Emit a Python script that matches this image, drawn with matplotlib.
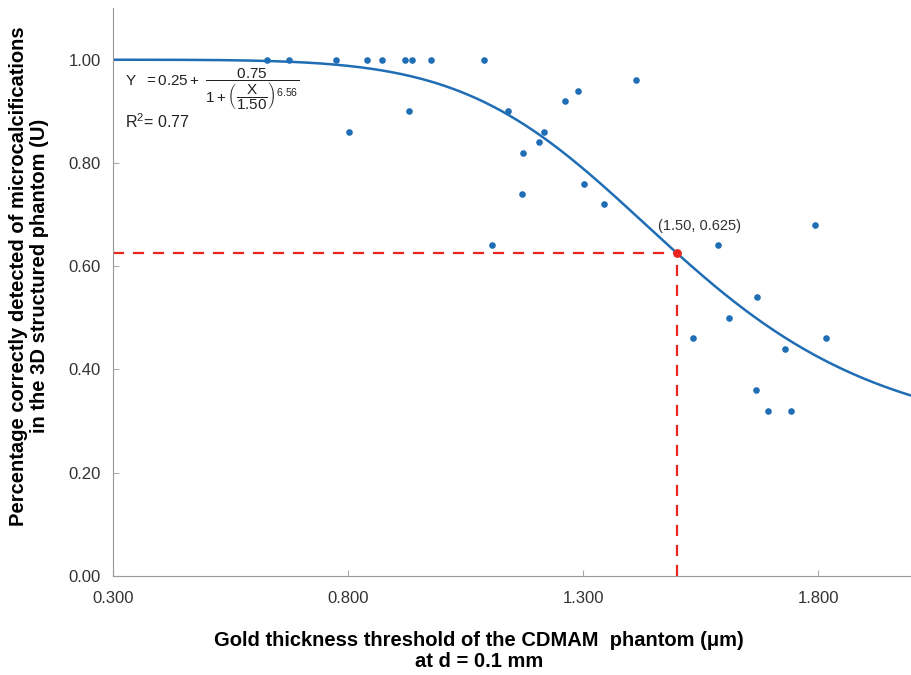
import numpy as np
import matplotlib.pyplot as plt

plt.rcParams['font.family'] = ['Liberation Sans', 'DejaVu Sans']
plt.rcParams['mathtext.fontset'] = 'custom'
plt.rcParams['mathtext.rm'] = 'Liberation Sans'
plt.rcParams['mathtext.it'] = 'Liberation Sans'

# observed points (gold thickness threshold, fraction detected)
thickness = [0.627, 0.675, 0.774, 0.840, 0.872, 0.921, 0.935, 0.977, 1.089,
             0.930, 0.801, 1.141, 1.216, 1.207, 1.173, 1.170, 1.107,
             1.413, 1.290, 1.262, 1.301, 1.345,
             1.794, 1.587, 1.671, 1.611, 1.535, 1.817, 1.730, 1.669, 1.693, 1.742]
detected = [1.00, 1.00, 1.00, 1.00, 1.00, 1.00, 1.00, 1.00, 1.00,
            0.90, 0.86, 0.90, 0.86, 0.84, 0.82, 0.74, 0.64,
            0.96, 0.94, 0.92, 0.76, 0.72,
            0.68, 0.64, 0.54, 0.50, 0.46, 0.46, 0.44, 0.36, 0.32, 0.32]

# fitted logistic model
a_min, a_range, x50, slope = 0.25, 0.75, 1.50, 6.56
ref_x, ref_y = 1.50, 0.625

blue = '#1f6db5'
red = '#e8261f'

fig = plt.figure(figsize=(9.12, 6.75), dpi=100)
ax = fig.add_axes([0.124, 0.147, 0.876, 0.841])

xs = np.linspace(0.3, 2.0, 400)
ys = a_min + a_range / (1 + (xs / x50) ** slope)
ax.plot(xs, ys, color=blue, lw=1.8, zorder=2)
ax.scatter(thickness, detected, s=14, color=blue, zorder=3)

ax.plot([0.3, ref_x], [ref_y, ref_y], color=red, lw=1.6, ls=(0, (5, 4)), zorder=1)
ax.plot([ref_x, ref_x], [0, ref_y], color=red, lw=1.6, ls=(0, (5, 4)), zorder=1)
ax.scatter([ref_x], [ref_y], s=28, color=red, zorder=4)
ax.text(ref_x - 0.04, ref_y + 0.045, '(1.50, 0.625)', fontsize=10.5, color='#333333')

ax.text(0.325, 0.943,
        r'$\mathrm{Y\ \ = 0.25 +}\ \dfrac{0.75}{1+\left(\dfrac{X}{1.50}\right)^{6.56}}$',
        fontsize=11, color='#222222', va='center')
ax.text(0.325, 0.88, r'R$^2$= 0.77', fontsize=11.5, color='#222222', va='center')

ax.set_xlim(0.3, 2.0)
ax.set_ylim(0, 1.1)
ax.set_xticks([0.3, 0.8, 1.3, 1.8])
ax.set_xticklabels(['0.300', '0.800', '1.300', '1.800'])
ax.set_yticks([0, 0.2, 0.4, 0.6, 0.8, 1.0])
ax.set_yticklabels(['0.00', '0.20', '0.40', '0.60', '0.80', '1.00'])
ax.tick_params(axis='x', direction='in', length=4, color='#aaaaaa',
               labelsize=12, labelcolor='#333333', pad=11)
ax.tick_params(axis='y', direction='in', length=4, color='#aaaaaa',
               labelsize=12, labelcolor='#333333', pad=9)

for side in ['top', 'right']:
    ax.spines[side].set_visible(False)
for side in ['left', 'bottom']:
    ax.spines[side].set_color('#999999')

fig.text(479 / 912, 1 - 651 / 675,
         'Gold thickness threshold of the CDMAM  phantom (μm)\nat d = 0.1 mm',
         fontsize=14.5, fontweight='bold', ha='center', va='center', linespacing=1.15)
fig.text(29 / 912, 1 - 276 / 675,
         'Percentage correctly detected of microcalcifications\n'
         'in the 3D structured phantom (U)',
         fontsize=14.5, fontweight='bold', ha='center', va='center',
         rotation=90, linespacing=1.15)

fig.savefig('out.png', dpi=100)
